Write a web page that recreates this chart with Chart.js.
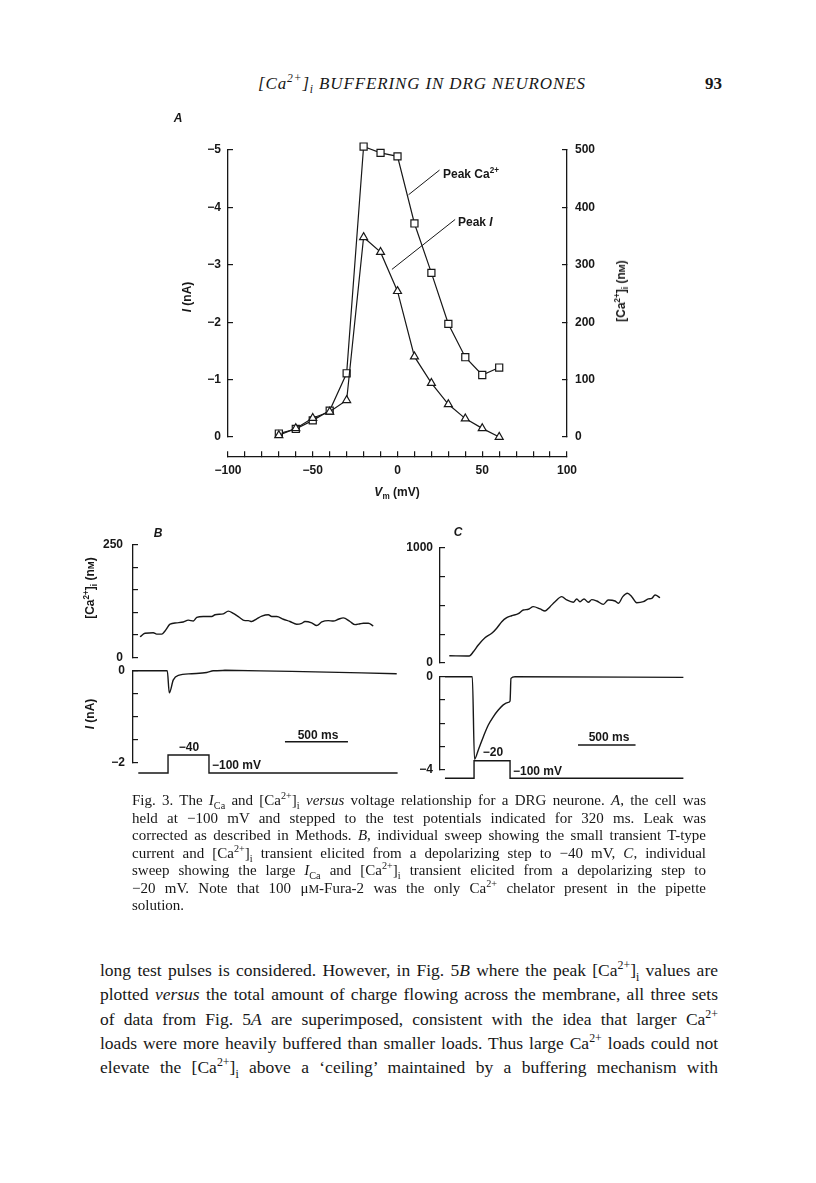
<!DOCTYPE html>
<html>
<head>
<meta charset="utf-8">
<script src="https://cdn.jsdelivr.net/npm/chart.js@4.4.1/dist/chart.umd.min.js"></script>
<style>
body { margin: 0; background: #fff; }
#page { position: relative; width: 816px; height: 1183px; overflow: hidden; color: #171717; }
canvas { position: absolute; }
.t { position: absolute; white-space: nowrap; font: bold 12px "Liberation Sans", Arial, sans-serif; transform: translate(-50%, -50%); }
.l { transform: translate(0, -50%); }
.rot { transform: translate(-50%, -50%) rotate(-90deg); }
.jl { position: absolute; white-space: nowrap; font-family: "Liberation Serif", serif; }
.cap { font-size: 15px; }
.body { font-size: 17.5px; }
sup, sub { font-size: 68%; line-height: 0; }
.sc { font-size: 80%; }
</style>
</head>
<body>
<div id="page">
  <div class="jl" data-ls="327" style="left:258px;top:74px;font-size:17px;font-style:italic">[Ca<sup>2+</sup>]<sub>i</sub> BUFFERING IN DRG NEURONES</div>
  <div class="jl" style="left:705px;top:74px;font-size:17px;font-weight:bold">93</div>

  <canvas id="chartA" width="480" height="420" style="left:140px;top:100px"></canvas>
  <div class="t" style="left:178px;top:118px;font-style:italic">A</div>
  <div class="t rot" style="left:187px;top:297px"><i>I</i> (nA)</div>
  <div class="t rot" style="left:621px;top:291px">[Ca<sup>2+</sup>]<sub>i</sub> (n<span class="sc">M</span>)</div>
  <div class="t" style="left:397px;top:492px"><i>V</i><sub>m</sub> (mV)</div>
  <div class="t l" style="left:443px;top:174px">Peak Ca<sup>2+</sup></div>
  <div class="t l" style="left:458px;top:222px">Peak <i>I</i></div>

  <canvas id="caB" width="350" height="175" style="left:60px;top:515px"></canvas>
  <canvas id="iB" width="350" height="155" style="left:60px;top:640px"></canvas>
  <div class="t" style="left:158px;top:533px;font-style:italic">B</div>
  <div class="t rot" style="left:90px;top:588px">[Ca<sup>2+</sup>]<sub>i</sub> (n<span class="sc">M</span>)</div>
  <div class="t rot" style="left:90px;top:714px"><i>I</i> (nA)</div>
  <div class="t" style="left:318px;top:735px">500 ms</div>
  <div class="t" style="left:189px;top:747px">−40</div>
  <div class="t l" style="left:212px;top:765px">−100 mV</div>

  <canvas id="caC" width="330" height="177" style="left:370px;top:518px"></canvas>
  <canvas id="iC" width="330" height="156" style="left:370px;top:646px"></canvas>
  <div class="t" style="left:458px;top:532px;font-style:italic">C</div>
  <div class="t" style="left:609px;top:737px">500 ms</div>
  <div class="t" style="left:493px;top:752px">−20</div>
  <div class="t l" style="left:513px;top:771px">−100 mV</div>

  <div class="jl cap" data-w="574" style="left:132px;top:792px">Fig. 3. The <i>I</i><sub>Ca</sub> and [Ca<sup>2+</sup>]<sub>i</sub> <i>versus</i> voltage relationship for a DRG neurone. <i>A</i>, the cell was</div>
  <div class="jl cap" data-w="574" style="left:132px;top:809.5px">held at −100 mV and stepped to the test potentials indicated for 320 ms. Leak was</div>
  <div class="jl cap" data-w="574" style="left:132px;top:827px">corrected as described in Methods. <i>B</i>, individual sweep showing the small transient T-type</div>
  <div class="jl cap" data-w="574" style="left:132px;top:844.5px">current and [Ca<sup>2+</sup>]<sub>i</sub> transient elicited from a depolarizing step to −40 mV, <i>C</i>, individual</div>
  <div class="jl cap" data-w="574" style="left:132px;top:862px">sweep showing the large <i>I</i><sub>Ca</sub> and [Ca<sup>2+</sup>]<sub>i</sub> transient elicited from a depolarizing step to</div>
  <div class="jl cap" data-w="574" style="left:132px;top:879.5px">−20 mV. Note that 100 μ<span class="sc">M</span>-Fura-2 was the only Ca<sup>2+</sup> chelator present in the pipette</div>
  <div class="jl cap" style="left:132px;top:897px">solution.</div>

  <div class="jl body" data-w="618" style="left:100px;top:960px">long test pulses is considered. However, in Fig. 5<i>B</i> where the peak [Ca<sup>2+</sup>]<sub>i</sub> values are</div>
  <div class="jl body" data-w="618" style="left:100px;top:984px">plotted <i>versus</i> the total amount of charge flowing across the membrane, all three sets</div>
  <div class="jl body" data-w="618" style="left:100px;top:1008.5px">of data from Fig. 5<i>A</i> are superimposed, consistent with the idea that larger Ca<sup>2+</sup></div>
  <div class="jl body" data-w="618" style="left:100px;top:1033px">loads were more heavily buffered than smaller loads. Thus large Ca<sup>2+</sup> loads could not</div>
  <div class="jl body" data-w="618" style="left:100px;top:1057px">elevate the [Ca<sup>2+</sup>]<sub>i</sub> above a ‘ceiling’ maintained by a buffering mechanism with</div>
</div>

<script>
// Panel A: peak current and peak [Ca2+]i vs test potential
const vm = [-70, -60, -50, -40, -30, -20, -10, 0, 10, 20, 30, 40, 50, 60];
const peakI = [-0.03, -0.15, -0.33, -0.44, -0.64, -3.48, -3.22, -2.54, -1.40, -0.94, -0.57, -0.32, -0.15, 0];
const peakCa = [6, 14, 29, 46, 111, 506, 495, 489, 372, 286, 197, 139, 108, 121];
const vmLabels = [-100, -50, 0, 50, 100];

// Panel B: step to -40 mV (time in ms)
const tCaB = [56, 95, 161, 188, 228, 254, 294, 347, 399, 439, 479, 506, 558, 625, 651, 717, 756, 796, 836, 889,
  915, 942, 982, 1022, 1074, 1101, 1141, 1193, 1246, 1299, 1339, 1365, 1418, 1458, 1498, 1550, 1590, 1630, 1669, 1722,
  1762, 1802, 1828, 1868, 1907];
const caB = [46, 54, 55, 52, 52, 59, 74, 77, 79, 83, 81, 89, 91, 91, 95, 97, 103, 98, 91, 82,
  82, 80, 86, 92, 95, 91, 91, 85, 80, 74, 76, 80, 77, 71, 79, 82, 81, 85, 88, 80,
  73, 75, 76, 76, 70];
const tIB = [0, 272, 288, 320, 360, 466, 585, 637, 730, 1260, 2093];
const iB = [0, 0, -0.48, -0.2, -0.1, -0.065, -0.04, 0, 0.01, -0.015, -0.065];
const tVB = [42, 278, 278, 603, 603, 2100];
const vB = [-100, -100, -40, -40, -100, -100];
const barB = [1206, 1706];

// Panel C: step to -20 mV
const tCaC = [81, 255, 290, 333, 391, 450, 493, 537, 580, 623, 681, 724, 768, 811, 870, 913, 957, 1000, 1058, 1102,
  1159, 1189, 1217, 1252, 1290, 1319, 1363, 1420, 1463, 1522, 1550, 1589, 1629, 1667, 1710, 1768, 1811, 1841, 1870, 1913];
const caC = [63, 61, 98, 157, 220, 258, 302, 359, 394, 411, 429, 461, 467, 490, 470, 452, 490, 533, 577, 548,
  528, 557, 533, 557, 528, 551, 539, 510, 548, 539, 519, 577, 606, 577, 524, 533, 557, 562, 591, 568];
const tIC = [43, 281, 300, 333, 377, 420, 463, 507, 550, 594, 609, 617, 652, 2116];
const iC = [0, 0, -3.54, -3.14, -2.57, -2.07, -1.72, -1.43, -1.21, -1.10, -1.04, -0.07, 0, -0.03];
const tVC = [43, 296, 296, 609, 609, 2116];
const vC = [-100, -100, -20, -20, -100, -100];
const barC = [1200, 1700];

const INK = '#171717';
const SANS = '"Liberation Sans", Arial, sans-serif';
const xy = (xs, ys) => xs.map((x, i) => ({ x, y: ys[i] }));
const fmt = v => String(v).replace('-', '\u2212');
const tickFont = { family: SANS, size: 12, weight: 'bold' };

function yAxis(min, max, step, labels, pad, width, extra) {
  return Object.assign({
    min, max,
    ticks: { stepSize: step, autoSkip: false, padding: pad, color: INK, font: tickFont,
      callback: v => (labels === null || labels.includes(v)) ? fmt(v) : '' },
    grid: { drawOnChartArea: false, tickLength: -5, color: INK, lineWidth: 1.2 },
    border: { color: INK, width: 1.3 },
    afterFit: s => { s.width = width; }
  }, extra || {});
}

const line = (data, axis, w) => ({ data, yAxisID: axis, borderColor: INK, borderWidth: w || 1.2,
  pointRadius: 0, clip: false, tension: 0 });

const base = pad => ({
  responsive: false, animation: false, events: [],
  layout: { padding: pad },
  plugins: { legend: { display: false }, tooltip: { enabled: false } }
});

// Panel A
new Chart(document.getElementById('chartA'), {
  type: 'line',
  data: {
    datasets: [
      Object.assign(line(xy(vm, peakI), 'y'), { pointStyle: 'triangle', pointRadius: 4.6,
        pointBackgroundColor: '#fff', pointBorderColor: INK, pointBorderWidth: 1.2 }),
      Object.assign(line(xy(vm, peakCa), 'y2'), { pointStyle: 'rect', pointRadius: 5,
        pointBackgroundColor: '#fff', pointBorderColor: INK, pointBorderWidth: 1.2 }),
      line([{ x: 24.8, y: 465 }, { x: 6.5, y: 422 }], 'y2', 1),
      line([{ x: 34, y: -3.79 }, { x: -3.3, y: -2.92 }], 'y', 1)
    ]
  },
  options: Object.assign(base({ top: 50, bottom: 83, left: 0, right: 0 }), {
    scales: {
      x: {
        type: 'linear', min: -100, max: 100, position: { y: 0.348 },
        ticks: { stepSize: 10, autoSkip: false, maxRotation: 0, padding: 13, color: INK, font: tickFont,
          callback: v => vmLabels.includes(v) ? fmt(v) : '' },
        grid: { drawOnChartArea: false, tickLength: -6, color: INK, lineWidth: 1.2 },
        border: { color: INK, width: 1.3 }
      },
      y: yAxis(-5, 0, 1, null, 12, 88, { reverse: true, position: 'left' }),
      y2: yAxis(0, 500, 100, null, 13, 53, { position: 'right' })
    }
  })
});

// Trace panels B and C (canvases are taller than the plot so label padding never squeezes it)
function trace(id, pad, xmax, yCfg, sets, extraScales) {
  return new Chart(document.getElementById(id), {
    type: 'line',
    data: { datasets: sets },
    options: Object.assign(base(pad), {
      scales: Object.assign({
        x: { type: 'linear', display: false, min: 0, max: xmax },
        y: yCfg
      }, extraScales || {})
    })
  });
}

const smooth = d => Object.assign(d, { cubicInterpolationMode: 'monotone', borderWidth: 1.4 });

trace('caB', { top: 30, bottom: 32.5, left: 0, right: 12.4 }, 2100,
  yAxis(0, 250, 50, [0, 250], 15, 73),
  [smooth(line(xy(tCaB, caB), 'y'))]);

trace('iB', { top: 30.7, bottom: 32, left: 0, right: 12.4 }, 2100,
  yAxis(-2, 0, 0.5, [0, -2], 13, 73),
  [smooth(line(xy(tIB, iB), 'y')),
   line(xy(tVB, vB), 'v', 1.4),
   line(xy(barB, [-1.54, -1.54]), 'y', 1.4)],
  { v: { display: false, min: -66.7, max: 241 } });

trace('caC', { top: 30, bottom: 32, left: 0, right: 15 }, 2130,
  yAxis(0, 1000, 250, [0, 1000], 12, 70),
  [smooth(line(xy(tCaC, caC), 'y'))]);

trace('iC', { top: 30.7, bottom: 32, left: 0, right: 15 }, 2130,
  yAxis(-4, 0, 1, [0, -4], 12, 70),
  [smooth(line(xy(tIC, iC), 'y')),
   line(xy(tVC, vC), 'v', 1.4),
   line(xy(barC, [-2.93, -2.93]), 'y', 1.4)],
  { v: { display: false, min: -62.3, max: 361.8 } });

// stretch the text lines to their printed widths
document.querySelectorAll('.jl[data-w]').forEach(el => {
  const gaps = (el.textContent.match(/ /g) || []).length;
  const nat = el.getBoundingClientRect().width;
  if (gaps) el.style.wordSpacing = ((+el.dataset.w - nat) / gaps) + 'px';
});
document.querySelectorAll('.jl[data-ls]').forEach(el => {
  const n = el.textContent.length - 1;
  const nat = el.getBoundingClientRect().width;
  el.style.letterSpacing = ((+el.dataset.ls - nat) / n) + 'px';
});
</script>
</body>
</html>
